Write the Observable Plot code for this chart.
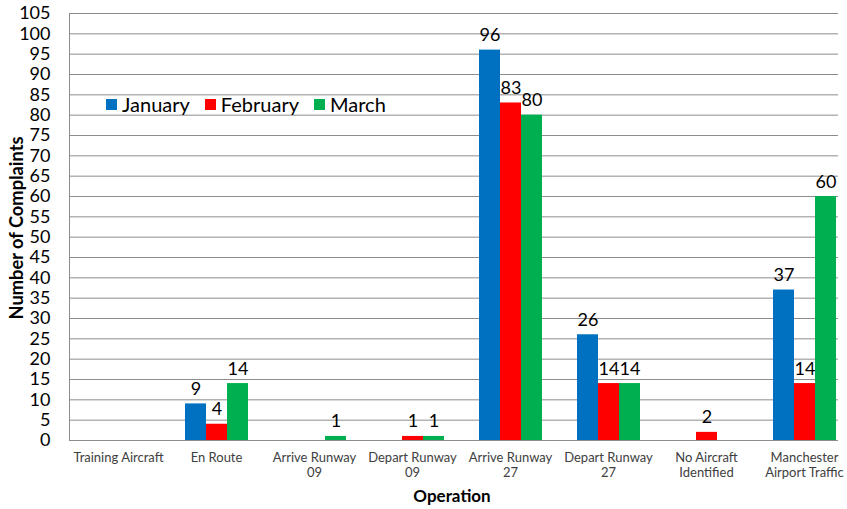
<!DOCTYPE html>
<html>
<head>
<meta charset="utf-8">
<script src="https://cdn.jsdelivr.net/npm/d3@7"></script>
<script src="https://cdn.jsdelivr.net/npm/@observablehq/plot@0.6"></script>
<style>
  html, body { margin: 0; padding: 0; background: white; }
  #wrap { position: relative; width: 847px; height: 509px; overflow: hidden; font-family: Lato, "Open Sans", sans-serif; }
  #wrap svg { display: block; }
  .legend { position: absolute; left: 106px; top: 92px; display: flex; align-items: center; font-size: 20px; color: #000; }
  .legend span.sw { display: inline-block; width: 11px; height: 11px; margin-right: 5px; }
  .legend span.it { display: inline-flex; align-items: center; margin-right: 15px; }
  .ytitle { position: absolute; left: 16px; top: 228px; transform: translate(-50%, -50%) rotate(-90deg); font-weight: bold; font-size: 18.3px; white-space: nowrap; }
  .xtitle { position: absolute; left: 452px; top: 495px; transform: translate(-50%, -50%); font-weight: bold; font-size: 17px; }
  .mask { position: absolute; left: 838px; top: 0; width: 9px; height: 442px; background: white; }
</style>
</head>
<body>
<div id="wrap"></div>
<script>
const categories = ["Training Aircraft","En Route","Arrive Runway 09","Depart Runway 09","Arrive Runway 27","Depart Runway 27","No Aircraft Identified","Manchester Airport Traffic"];
const tickLabels = ["Training Aircraft","En Route","Arrive Runway\n09","Depart Runway\n09","Arrive Runway\n27","Depart Runway\n27","No Aircraft\nIdentified","Manchester\nAirport Traffic"];
const months = ["January","February","March"];
const january  = [0, 9, 0, 0, 96, 26, 0, 37];
const february = [0, 4, 0, 1, 83, 14, 2, 14];
const march    = [0, 14, 1, 1, 80, 14, 0, 60];
const colors = ["#0070C0", "#FF0000", "#00B050"];
const yTicks = d3.range(0, 106, 5);

const series = [january, february, march];
const data = [];
categories.forEach((c, i) => months.forEach((m, j) => data.push({category: c, month: m, value: series[j][i]})));

const chart = Plot.plot({
  width: 847,
  height: 509,
  marginLeft: 67,
  marginRight: 0,
  marginTop: 13,
  marginBottom: 69,
  style: {fontFamily: "Lato, 'Open Sans', sans-serif", background: "white", overflow: "visible"},
  fx: {domain: categories, padding: 0, label: null, range: [67, 855]},
  x: {domain: months, paddingInner: 0, paddingOuter: 0.77, axis: null},
  y: {domain: [0, 105], label: null},
  color: {domain: months, range: colors},
  marks: [
    Plot.gridY(yTicks, {stroke: "#8c8c8c", strokeOpacity: 1, strokeWidth: 1}),
    Plot.barY(data, {fx: "category", x: "month", y: "value", fill: "month"}),
    Plot.text(data.filter(d => d.value > 0), {fx: "category", x: "month", y: "value", text: d => String(d.value), lineAnchor: "bottom", dy: -9, fontSize: 18, fill: "black"}),
    Plot.ruleY([0], {stroke: "#8c8c8c", strokeWidth: 1.2}),
    Plot.frame({anchor: "left", facetAnchor: "left", stroke: "#8c8c8c"}),
    Plot.axisY(yTicks, {tickSize: 0, tickPadding: 19, fontSize: 18, fill: "black", label: null}),
    Plot.axisFx({anchor: "bottom", tickSize: 0, tickPadding: 10, fontSize: 13, fill: "#404040", label: null, lineHeight: 1.2,
      tickFormat: d => tickLabels[categories.indexOf(d)]})
  ]
});

const wrap = document.getElementById("wrap");
wrap.appendChild(chart);

const mask = document.createElement("div");
mask.className = "mask";
wrap.appendChild(mask);

const legend = document.createElement("div");
legend.className = "legend";
months.forEach((m, j) => {
  const it = document.createElement("span");
  it.className = "it";
  const sw = document.createElement("span");
  sw.className = "sw";
  sw.style.background = colors[j];
  it.appendChild(sw);
  it.appendChild(document.createTextNode(m));
  legend.appendChild(it);
});
wrap.appendChild(legend);

const yt = document.createElement("div");
yt.className = "ytitle";
yt.textContent = "Number of Complaints";
wrap.appendChild(yt);

const xt = document.createElement("div");
xt.className = "xtitle";
xt.textContent = "Operation";
wrap.appendChild(xt);
</script>
</body>
</html>
